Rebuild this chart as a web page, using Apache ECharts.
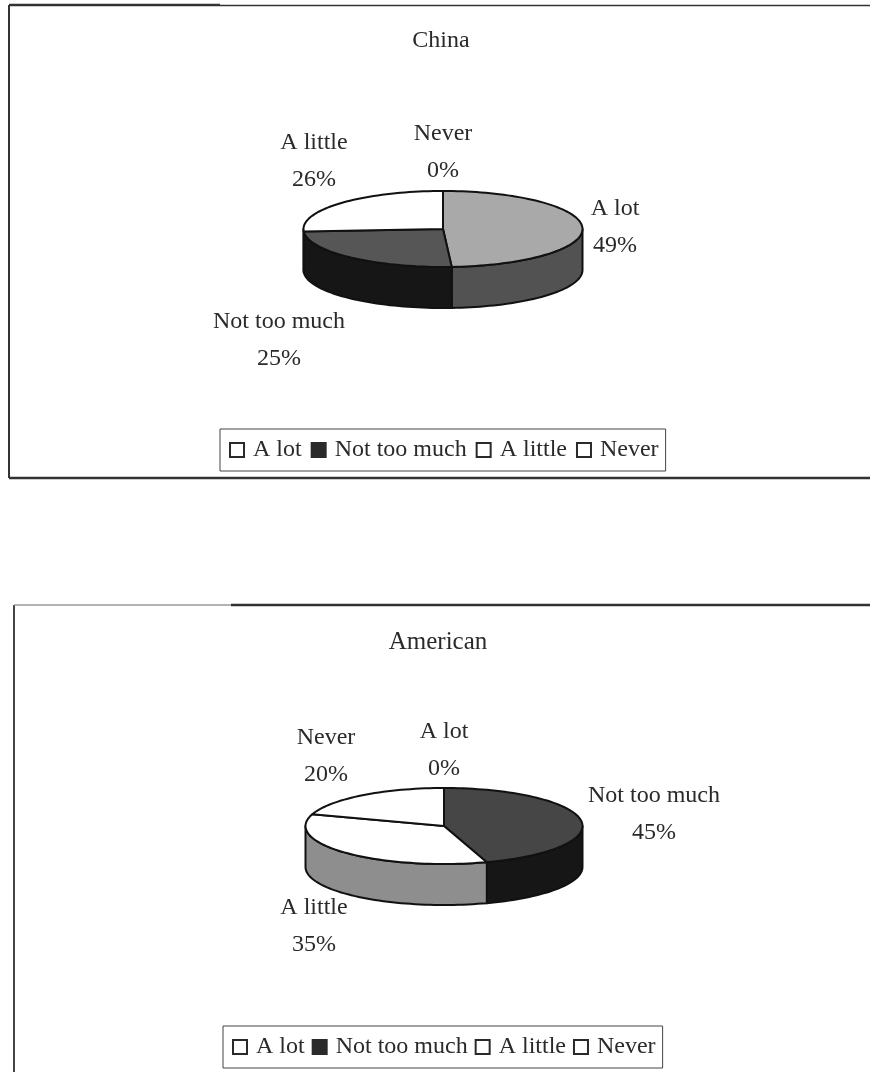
<!DOCTYPE html>
<html>
<head>
<meta charset="utf-8">
<style>html,body{margin:0;padding:0;background:#fff}#chart{width:870px;height:1072px}</style>
<script src="https://cdn.jsdelivr.net/npm/echarts@6/dist/echarts.min.js"></script>
</head>
<body>
<div id="chart"></div>
<script>
// Survey answers, in legend order
const categories = ['A lot', 'Not too much', 'A little', 'Never'];
const chinaValues = [49, 25, 26, 0];
const americanValues = [0, 45, 35, 20];

// Per-panel appearance: top face and side wall colour of each category
const chinaTop = ['#a9a9a9', '#565656', '#ffffff', '#ffffff'];
const chinaSide = ['#525252', '#161616', '#ffffff', '#ffffff'];
const americanTop = ['#ffffff', '#464646', '#ffffff', '#ffffff'];
const americanSide = ['#ffffff', '#161616', '#8e8e8e', '#ffffff'];

// Label centres for each category
const chinaLabels = [[615, 227], [279, 340], [314, 161], [443, 152]];
const americanLabels = [[444, 750], [654, 814], [314, 926], [326, 756]];

const FONT = '"Liberation Serif", "Times New Roman", serif';
const INK = '#2a2a2a';

const panels = [
  { title: 'China', values: chinaValues, top: chinaTop, side: chinaSide, labels: chinaLabels,
    cx: 443, cy: 229, rx: 139.5, ry: 38, depth: 41 },
  { title: 'American', values: americanValues, top: americanTop, side: americanSide, labels: americanLabels,
    cx: 444, cy: 826, rx: 138.5, ry: 38, depth: 41 }
];

// Point on the ellipse, angle in degrees clockwise from twelve o'clock
function rimPoint(p, deg, drop) {
  const a = deg * Math.PI / 180;
  return [p.cx + p.rx * Math.sin(a), p.cy - p.ry * Math.cos(a) + (drop || 0)];
}

function arcPoints(p, from, to, drop) {
  const pts = [];
  const steps = Math.max(2, Math.ceil(Math.abs(to - from) / 2));
  for (let i = 0; i <= steps; i++) pts.push(rimPoint(p, from + (to - from) * i / steps, drop));
  return pts;
}

function sliceRenderer(panel, index) {
  const total = panel.values.reduce((s, v) => s + v, 0);
  const startValue = panel.values.slice(0, index).reduce((s, v) => s + v, 0);
  return function (params, api) {
    const value = api.value(0);
    const from = startValue / total * 360;
    const to = (startValue + value) / total * 360;
    const children = [];
    if (value > 0) {
      // Only the part of the rim facing the viewer shows a wall
      const wallFrom = Math.max(from, 90);
      const wallTo = Math.min(to, 270);
      if (wallTo > wallFrom) {
        const upper = arcPoints(panel, wallFrom, wallTo, 0);
        const lower = arcPoints(panel, wallTo, wallFrom, panel.depth);
        children.push({
          type: 'polygon', z2: 1,
          shape: { points: upper.concat(lower) },
          style: { fill: panel.side[index], stroke: '#111', lineWidth: 2, lineJoin: 'round' }
        });
      }
      children.push({
        type: 'polygon', z2: 2,
        shape: { points: [[panel.cx, panel.cy]].concat(arcPoints(panel, from, to, 0)) },
        style: { fill: panel.top[index], stroke: '#111', lineWidth: 2, lineJoin: 'round' }
      });
    }
    const pos = panel.labels[index];
    children.push({
      type: 'text', z2: 3,
      style: {
        text: categories[index] + '\n' + value + '%',
        x: pos[0], y: pos[1], align: 'center', verticalAlign: 'middle',
        font: '24px ' + FONT, lineHeight: 37, fill: INK
      }
    });
    return { type: 'group', children };
  };
}

const series = [];
panels.forEach(panel => {
  categories.forEach((name, i) => {
    series.push({
      type: 'custom', name, coordinateSystem: 'none', silent: true,
      data: [[panel.values[i]]],
      renderItem: sliceRenderer(panel, i)
    });
  });
});

function legendFor(left, top, gap) {
  return {
    left, top, orient: 'horizontal', selectedMode: false,
    borderColor: '#444', borderWidth: 1, padding: [9, 7, 9, 9],
    itemWidth: 14, itemHeight: 14, itemGap: gap,
    textStyle: { fontFamily: FONT, fontSize: 24, color: INK, padding: [0, 0, 0, 4] },
    data: categories.map(name => ({
      name, icon: 'rect',
      itemStyle: { color: name === 'Not too much' ? '#2a2a2a' : '#ffffff', borderColor: '#2a2a2a', borderWidth: 2 }
    }))
  };
}

function rule(points, width, color) {
  return { type: 'polyline', silent: true, shape: { points }, style: { fill: null, stroke: color, lineWidth: width } };
}

const chart = echarts.init(document.getElementById('chart'), null, { renderer: 'canvas' });
chart.setOption({
  animation: false,
  backgroundColor: '#ffffff',
  title: [
    { text: 'China', left: 436, top: 36, textAlign: 'center', textVerticalAlign: 'middle',
      textStyle: { fontFamily: FONT, fontSize: 24, fontWeight: 'normal', color: INK } },
    { text: 'American', left: 433, top: 637, textAlign: 'center', textVerticalAlign: 'middle',
      textStyle: { fontFamily: FONT, fontSize: 25, fontWeight: 'normal', color: INK } }
  ],
  legend: [legendFor(220, 429, 9), legendFor(223, 1026, 7)],
  series,
  graphic: [
    rule([[9, 478], [870, 478]], 2.5, '#333'),
    rule([[9, 478], [9, 5]], 2, '#333'),
    rule([[9, 5], [220, 5]], 2.5, '#333'),
    rule([[220, 5.5], [870, 5.5]], 1.5, '#333'),
    rule([[14, 1072], [14, 605]], 2, '#444'),
    rule([[14, 605], [231, 605]], 1.5, '#999'),
    rule([[231, 605], [870, 605]], 2.5, '#333')
  ]
});
</script>
</body>
</html>
